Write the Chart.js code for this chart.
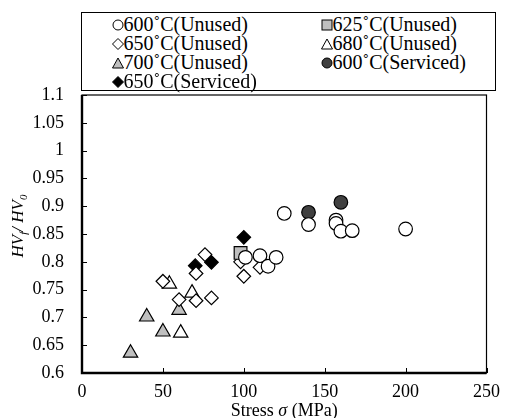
<!DOCTYPE html>
<html>
<head>
<meta charset="utf-8">
<script src="https://cdn.jsdelivr.net/npm/chart.js@4/dist/chart.umd.min.js"></script>
<style>
  html, body { margin: 0; padding: 0; background: #fff; }
  #wrap { position: relative; width: 508px; height: 418px; overflow: hidden; }
  #legend {
    position: absolute; left: 81px; top: 12px; width: 413px; height: 77px;
    border: 1.5px solid #000; background: #fff;
    font-family: "Liberation Serif", Tinos, "Times New Roman", Times, "DejaVu Serif", serif;
    font-size: 20px; color: #000;
  }
  .item { position: absolute; white-space: nowrap; line-height: 19px; }
  .item svg { vertical-align: -1px; }
</style>
</head>
<body>
<div id="wrap">
  <canvas id="chart" width="508" height="418"></canvas>
  <div id="legend"></div>
</div>
<script>
// Series
const seriesNames = ['600˚C(Unused)', '625˚C(Unused)', '650˚C(Unused)', '680˚C(Unused)',
                     '700˚C(Unused)', '600˚C(Serviced)', '650˚C(Serviced)'];

const x600u = [101, 110, 115, 120, 125, 140, 157, 157, 160, 167, 200];
const y600u = [0.808, 0.811, 0.792, 0.808, 0.887, 0.867, 0.875, 0.869, 0.855, 0.856, 0.859];

const x625u = [98];
const y625u = [0.816];

const x650u = [50, 60, 70.5, 70.5, 76, 80, 98, 100, 110];
const y650u = [0.765, 0.732, 0.779, 0.730, 0.813, 0.735, 0.800, 0.774, 0.790];

const x680u = [54, 61, 68];
const y680u = [0.760, 0.672, 0.744];

const x700u = [30, 40, 50, 60];
const y700u = [0.636, 0.701, 0.674, 0.713];

const x600s = [140, 160];
const y600s = [0.889, 0.907];

const x650s = [70, 80, 100];
const y650s = [0.793, 0.799, 0.844];

const xTicks = [0, 50, 100, 150, 200, 250];
const yTicks = [0.6, 0.65, 0.7, 0.75, 0.8, 0.85, 0.9, 0.95, 1, 1.05, 1.1];

const FONT = '"Liberation Serif", Tinos, "Times New Roman", Times, "DejaVu Serif", serif';

function pts(xs, ys) {
  return xs.map((x, i) => ({ x: x, y: ys[i] }));
}

// marker style per series: shape, fill, radius
const styles = [
  { shape: 'circle',   fill: '#ffffff', r: 6.8 },
  { shape: 'rect',     fill: '#bfbfbf', r: 9 },
  { shape: 'rectRot',  fill: '#ffffff', r: 6.8 },
  { shape: 'triangle', fill: '#ffffff', r: 8.3 },
  { shape: 'triangle', fill: '#bfbfbf', r: 8.3 },
  { shape: 'circle',   fill: '#404040', r: 6.8 },
  { shape: 'rectRot',  fill: '#000000', r: 6.8 }
];
const allData = [
  pts(x600u, y600u), pts(x625u, y625u), pts(x650u, y650u), pts(x680u, y680u),
  pts(x700u, y700u), pts(x600s, y600s), pts(x650s, y650s)
];

const datasets = allData.map((d, i) => ({
  label: seriesNames[i],
  data: d,
  pointStyle: styles[i].shape,
  pointRadius: styles[i].r,
  pointHoverRadius: styles[i].r,
  backgroundColor: styles[i].fill,
  borderColor: '#000',
  borderWidth: 1.2,
  order: i
}));

// Frame, inside ticks and axis titles
const framePlugin = {
  id: 'frame',
  afterDraw(chart) {
    const ctx = chart.ctx;
    const a = chart.chartArea;
    const xs = chart.scales.x, ys = chart.scales.y;
    ctx.save();
    ctx.strokeStyle = '#000';
    ctx.lineWidth = 1.2;
    ctx.strokeRect(a.left, a.top, a.right - a.left, a.bottom - a.top);
    // thicker left / bottom axes
    ctx.lineWidth = 2.4;
    ctx.beginPath();
    ctx.moveTo(a.left, a.top);
    ctx.lineTo(a.left, a.bottom);
    ctx.lineTo(a.right, a.bottom);
    ctx.stroke();
    // inside ticks
    ctx.lineWidth = 1;
    ctx.beginPath();
    xTicks.forEach(v => {
      const px = Math.round(xs.getPixelForValue(v)) + 0.5;
      ctx.moveTo(px, a.bottom);
      ctx.lineTo(px, a.bottom - 5);
    });
    yTicks.forEach(v => {
      const py = Math.round(ys.getPixelForValue(v)) + 0.5;
      ctx.moveTo(a.left, py);
      ctx.lineTo(a.left + 5, py);
    });
    ctx.stroke();

    // x title: Stress σ (MPa)
    ctx.fillStyle = '#000';
    ctx.textBaseline = 'alphabetic';
    const parts = [['Stress ', ''], ['σ', 'italic '], [' (MPa)', '']];
    let total = 0;
    parts.forEach(p => { ctx.font = p[1] + '18px ' + FONT; total += ctx.measureText(p[0]).width; });
    let cx = (a.left + a.right) / 2 - total / 2;
    parts.forEach(p => {
      ctx.font = p[1] + '18px ' + FONT;
      ctx.fillText(p[0], cx, 416);
      cx += ctx.measureText(p[0]).width;
    });

    // y title: HVf / HV0 (rotated)
    ctx.translate(23, 226);
    ctx.rotate(-Math.PI / 2);
    const yparts = [['HV', 17, 0], ['f', 11, 4], ['/ ', 17, 0], ['HV', 17, 0], ['0', 11, 4]];
    let w = 0;
    yparts.forEach(p => { ctx.font = 'italic ' + p[1] + 'px ' + FONT; w += ctx.measureText(p[0]).width; });
    let tx = -w / 2;
    yparts.forEach(p => {
      ctx.font = 'italic ' + p[1] + 'px ' + FONT;
      ctx.fillText(p[0], tx, p[2]);
      tx += ctx.measureText(p[0]).width;
    });
    ctx.restore();
  }
};

new Chart(document.getElementById('chart'), {
  type: 'scatter',
  data: { datasets: datasets },
  options: {
    responsive: false,
    animation: false,
    layout: { padding: { top: 95, right: 14, bottom: 0, left: 0 } },
    plugins: {
      legend: { display: false },
      tooltip: { enabled: false }
    },
    scales: {
      x: {
        type: 'linear',
        min: 0, max: 250,
        afterFit: s => { s.height = 45; },
        afterBuildTicks: s => { s.ticks = xTicks.map(v => ({ value: v })); },
        grid: { display: false, drawTicks: false },
        border: { display: false },
        ticks: { color: '#000', padding: 8, font: { family: FONT, size: 18 } }
      },
      y: {
        type: 'linear',
        min: 0.6, max: 1.1,
        afterFit: s => { s.width = 82; },
        afterBuildTicks: s => { s.ticks = yTicks.map(v => ({ value: v })); },
        grid: { display: false, drawTicks: false },
        border: { display: false },
        ticks: {
          color: '#000', padding: 18, font: { family: FONT, size: 18 },
          callback: v => String(Number(v.toFixed(2)))
        }
      }
    }
  },
  plugins: [framePlugin]
});

// HTML legend, two columns
const legend = document.getElementById('legend');
const legendPos = [[29.5, 2], [238.5, 2], [29.5, 21], [238.5, 21], [29.5, 40], [238.5, 40], [29.5, 59]];

function markerSvg(st) {
  let shape;
  if (st.shape === 'circle') shape = '<circle cx="6" cy="7" r="5" />';
  else if (st.shape === 'rect') shape = '<rect x="1" y="2" width="10" height="10" />';
  else if (st.shape === 'rectRot') shape = '<polygon points="6,1.5 11.5,7 6,12.5 0.5,7" />';
  else shape = '<polygon points="6,2 11.5,12 0.5,12" />';
  return '<svg width="12" height="14" viewBox="0 0 12 14"><g fill="' + st.fill +
         '" stroke="#000" stroke-width="1">' + shape + '</g></svg>';
}

seriesNames.forEach((name, i) => {
  const el = document.createElement('div');
  el.className = 'item';
  el.style.left = legendPos[i][0] + 'px';
  el.style.top = legendPos[i][1] + 'px';
  el.innerHTML = markerSvg(styles[i]) + '<span></span>';
  el.querySelector('span').textContent = name;
  legend.appendChild(el);
});
</script>
</body>
</html>
